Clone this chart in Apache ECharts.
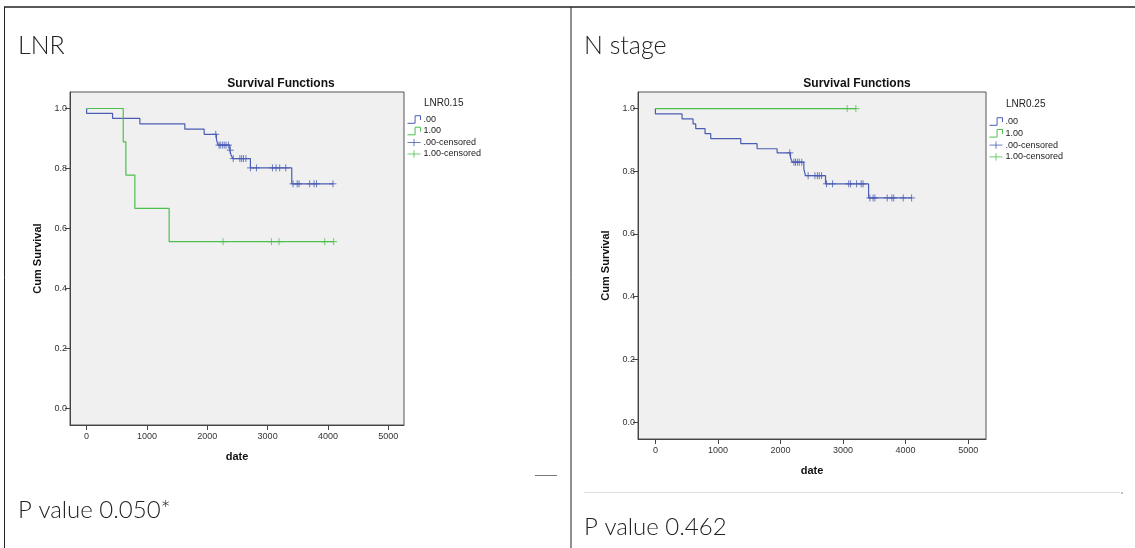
<!DOCTYPE html>
<html>
<head>
<meta charset="utf-8">
<script src="https://cdn.jsdelivr.net/npm/echarts@6/dist/echarts.min.js"></script>
<style>
  html, body { margin: 0; padding: 0; background: #fff; }
  #main { width: 1135px; height: 548px; }
</style>
</head>
<body>
<div id="main"></div>
<script>
// tick labels
var xTicks = [0, 1000, 2000, 3000, 4000, 5000];
var yTicks = [0, 0.2, 0.4, 0.6, 0.8, 1.0];
var groupNames = ['.00', '1.00', '.00-censored', '1.00-censored'];

// LNR0.15 - steps [date, cum survival]
var lnrLowSteps = [[0, 1.0], [0, 0.984], [430, 0.967], [883, 0.949], [1628, 0.931], [1948, 0.914],
    [2152, 0.897], [2165, 0.886], [2185, 0.878], [2373, 0.861], [2395, 0.844], [2425, 0.833],
    [2715, 0.802], [3400, 0.749], [4083, 0.749]];
var lnrHighSteps = [[0, 1.0], [607, 0.889], [651, 0.778], [800, 0.667], [1368, 0.556], [4095, 0.556]];
var lnrLowCensored = [[2141, 0.914], [2195, 0.878], [2215, 0.878], [2250, 0.878], [2280, 0.878], [2310, 0.878],
    [2350, 0.878], [2380, 0.861], [2430, 0.833], [2540, 0.833], [2570, 0.833], [2600, 0.833], [2640, 0.833],
    [2715, 0.802], [2815, 0.802], [3080, 0.802], [3140, 0.802], [3200, 0.802], [3300, 0.802],
    [3421, 0.749], [3490, 0.749], [3520, 0.749], [3697, 0.749], [3770, 0.749], [3810, 0.749], [4083, 0.749]];
var lnrHighCensored = [[2262, 0.556], [3063, 0.556], [3190, 0.556], [3946, 0.556], [4095, 0.556]];

// LNR0.25 (N stage)
var nLowSteps = [[0, 1.0], [0, 0.983], [426, 0.967], [602, 0.951], [645, 0.936], [794, 0.920], [885, 0.904],
    [1365, 0.888], [1626, 0.872], [1946, 0.859], [2160, 0.843], [2190, 0.829], [2373, 0.807], [2400, 0.786],
    [2720, 0.760], [3408, 0.715], [4096, 0.715]];
var nHighSteps = [[0, 1.0], [3205, 1.0]];
var nLowCensored = [[2149, 0.859], [2215, 0.829], [2240, 0.829], [2270, 0.829], [2300, 0.829], [2340, 0.829],
    [2442, 0.786], [2550, 0.786], [2590, 0.786], [2620, 0.786], [2656, 0.786],
    [2736, 0.760], [2832, 0.760], [3090, 0.760], [3120, 0.760], [3216, 0.760], [3290, 0.760], [3320, 0.760],
    [3429, 0.715], [3480, 0.715], [3509, 0.715], [3706, 0.715], [3780, 0.715], [3810, 0.715], [3962, 0.715], [4096, 0.715]];
var nHighCensored = [[3066, 1.0], [3205, 1.0]];

var blue = '#4a5db3';
var green = '#4cc04c';
var crossSymbol = 'path://M0,4H8M4,0V8';
var stepIcon = 'path://M0,8H7V1H12V5';
var crossIcon = 'path://M0,4H14M7,0V8';
var labelFont = 'Liberation Sans, Arial, sans-serif';
var pageFont = 'Lato, Noto Sans, sans-serif';

function makeX(gridIndex, min, max) {
    return {
        gridIndex: gridIndex, type: 'value', min: min, max: max,
        name: 'date', nameLocation: 'middle', nameGap: 26,
        nameTextStyle: {fontFamily: labelFont, fontSize: 11, fontWeight: 'bold', color: '#111'},
        axisLine: {show: true, onZero: false, lineStyle: {color: '#444', width: 1}},
        axisTick: {show: true, length: 5, customValues: xTicks, lineStyle: {color: '#444'}},
        axisLabel: {
            customValues: xTicks, fontFamily: labelFont, fontSize: 9, color: '#333', margin: 7,
            formatter: function (v) { return String(v); }
        },
        splitLine: {show: false}
    };
}

function makeY(gridIndex, min, max) {
    return {
        gridIndex: gridIndex, type: 'value', min: min, max: max,
        name: 'Cum Survival', nameLocation: 'middle', nameGap: 27,
        nameTextStyle: {fontFamily: labelFont, fontSize: 11, fontWeight: 'bold', color: '#111'},
        axisLine: {show: true, onZero: false, lineStyle: {color: '#444', width: 1}},
        axisTick: {show: true, length: 5, customValues: yTicks, lineStyle: {color: '#444'}},
        axisLabel: {
            customValues: yTicks, fontFamily: labelFont, fontSize: 9, color: '#333', margin: 3,
            formatter: function (v) { return v.toFixed(1); }
        },
        splitLine: {show: false}
    };
}

function stepSeries(name, idx, data, color) {
    return {
        name: name, type: 'line', step: 'end', xAxisIndex: idx, yAxisIndex: idx,
        data: data, symbol: 'none', color: color, silent: true,
        lineStyle: {color: color, width: 1.2}
    };
}

function censorSeries(name, idx, data, color) {
    return {
        name: name, type: 'scatter', xAxisIndex: idx, yAxisIndex: idx,
        data: data, symbol: crossSymbol, symbolSize: 7, color: color, silent: true,
        itemStyle: {color: 'transparent', borderColor: color, borderWidth: 1}
    };
}

function legendData() {
    return [
        {name: groupNames[0], icon: stepIcon, itemStyle: {color: 'transparent', borderColor: blue, borderWidth: 1}},
        {name: groupNames[1], icon: stepIcon, itemStyle: {color: 'transparent', borderColor: green, borderWidth: 1}},
        {name: groupNames[2], icon: crossIcon, itemStyle: {color: 'transparent', borderColor: blue, borderWidth: 1}},
        {name: groupNames[3], icon: crossIcon, itemStyle: {color: 'transparent', borderColor: green, borderWidth: 1}}
    ];
}

var myChart = echarts.init(document.getElementById('main'));

var option = {
    animation: false,
    textStyle: {fontFamily: labelFont},
    title: [
        {text: 'Survival Functions', left: 276, top: 73, textAlign: 'center',
            textStyle: {fontFamily: labelFont, fontSize: 12, fontWeight: 'bold', color: '#111'}},
        {text: 'Survival Functions', left: 852, top: 73, textAlign: 'center',
            textStyle: {fontFamily: labelFont, fontSize: 12, fontWeight: 'bold', color: '#111'}},
        {text: 'LNR0.15', left: 424, top: 98, padding: 0,
            textStyle: {fontFamily: labelFont, fontSize: 10, fontWeight: 'normal', color: '#222'}},
        {text: 'LNR0.25', left: 1006, top: 99, padding: 0,
            textStyle: {fontFamily: labelFont, fontSize: 10, fontWeight: 'normal', color: '#222'}}
    ],
    legend: [
        {orient: 'vertical', left: 407, top: 115, padding: 0, itemWidth: 13, itemHeight: 8, itemGap: 2.5,
            selectedMode: false, data: legendData(),
            textStyle: {fontFamily: labelFont, fontSize: 9, color: '#222', padding: [0, 0, 0, -2]}},
        {orient: 'vertical', left: 989, top: 117, padding: 0, itemWidth: 13, itemHeight: 8, itemGap: 2.8,
            selectedMode: false, data: legendData(),
            textStyle: {fontFamily: labelFont, fontSize: 9, color: '#222', padding: [0, 0, 0, -2]}}
    ],
    grid: [
        {left: 70, top: 92, width: 334, height: 333, show: true, backgroundColor: '#f0f0f0',
            borderColor: '#555', borderWidth: 1},
        {left: 638, top: 92, width: 348, height: 347, show: true, backgroundColor: '#f0f0f0',
            borderColor: '#555', borderWidth: 1}
    ],
    xAxis: [makeX(0, -275, 5260), makeX(1, -278, 5285)],
    yAxis: [makeY(0, -0.055, 1.055), makeY(1, -0.054, 1.053)],
    series: [
        stepSeries(groupNames[0], 0, lnrLowSteps, blue),
        stepSeries(groupNames[1], 0, lnrHighSteps, green),
        censorSeries(groupNames[2], 0, lnrLowCensored, blue),
        censorSeries(groupNames[3], 0, lnrHighCensored, green),
        stepSeries(groupNames[0], 1, nLowSteps, blue),
        stepSeries(groupNames[1], 1, nHighSteps, green),
        censorSeries(groupNames[2], 1, nLowCensored, blue),
        censorSeries(groupNames[3], 1, nHighCensored, green)
    ],
    graphic: [
        // table borders
        {type: 'line', shape: {x1: 4, y1: 7, x2: 1135, y2: 7}, style: {stroke: '#222', lineWidth: 1.5}},
        {type: 'line', shape: {x1: 4.5, y1: 7, x2: 4.5, y2: 548}, style: {stroke: '#222', lineWidth: 1}},
        {type: 'line', shape: {x1: 571, y1: 7, x2: 571, y2: 548}, style: {stroke: '#222', lineWidth: 1}},
        {type: 'line', shape: {x1: 535, y1: 475.5, x2: 557, y2: 475.5}, style: {stroke: '#777', lineWidth: 1}},
        {type: 'line', shape: {x1: 584, y1: 492.5, x2: 1120, y2: 492.5}, style: {stroke: '#ddd', lineWidth: 1}},
        {type: 'circle', shape: {cx: 1122, cy: 493, r: 0.8}, style: {fill: '#666'}},
        // cell texts
        {type: 'text', left: 18, top: 33, style: {text: 'LNR', font: '300 25px ' + pageFont, fill: '#222'}},
        {type: 'text', left: 584, top: 33, style: {text: 'N stage', font: '300 25px ' + pageFont, fill: '#222'}},
        {type: 'text', left: 18, top: 498, style: {text: 'P value 0.050*', font: '300 24px ' + pageFont, fill: '#222'}},
        {type: 'text', left: 584, top: 515, style: {text: 'P value 0.462', font: '300 24px ' + pageFont, fill: '#222'}}
    ]
};

myChart.setOption(option);
</script>
</body>
</html>
